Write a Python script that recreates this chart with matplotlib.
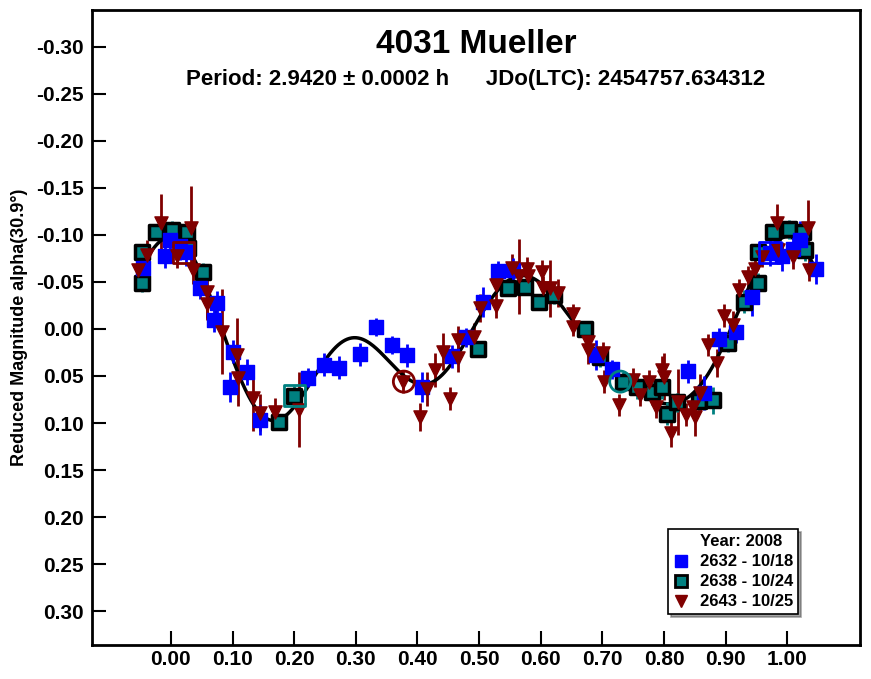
import matplotlib
matplotlib.use("Agg")
import matplotlib.pyplot as plt
import numpy as np
from matplotlib.lines import Line2D

plt.rcParams["font.family"] = "Liberation Sans"
plt.rcParams["font.weight"] = "bold"

# ── Data (phase, reduced magnitude, error) ─────────────────────────────
S2632_PH = [-0.045, -0.010, -0.002, 0.015, 0.025, 0.047, 0.075, 0.070, 0.096, 0.101, 0.123, 0.144,
            0.222, 0.248, 0.273, 0.307, 0.333, 0.359, 0.383, 0.408, 0.456, 0.479,
            0.506, 0.531, 0.555, 0.690, 0.716, 0.839, 0.865, 0.890, 0.916, 0.942,
            0.972, 0.992, 1.010, 1.021, 1.047]
S2632_MAG = [-0.065, -0.077, -0.095, -0.088, -0.082, -0.044, -0.028, -0.009, 0.062, 0.024, 0.046, 0.097,
             0.052, 0.038, 0.041, 0.027, -0.002, 0.017, 0.028, 0.062, 0.029, 0.009,
             -0.029, -0.062, -0.063, 0.028, 0.043, 0.045, 0.068, 0.011, 0.003, -0.034,
             -0.081, -0.077, -0.085, -0.095, -0.064]
S2632_ERR = [0.020, 0.012, 0.018, 0.015, 0.015, 0.012, 0.012, 0.012, 0.016, 0.012, 0.014, 0.016,
             0.010, 0.012, 0.012, 0.012, 0.010, 0.010, 0.012, 0.016, 0.012, 0.010,
             0.016, 0.010, 0.012, 0.016, 0.010, 0.012, 0.018, 0.012, 0.012, 0.020,
             0.014, 0.015, 0.015, 0.020, 0.016]

S2638_PH = [-0.047, -0.047, -0.024, 0.002, 0.026, 0.028, 0.052, 0.175, 0.200,
            0.498, 0.547, 0.575, 0.597, 0.622, 0.672, 0.696, 0.734, 0.756, 0.781, 0.797,
            0.805, 0.821, 0.856, 0.880, 0.904, 0.929, 0.953, 0.953, 0.977, 1.002, 1.026, 1.029]
S2638_MAG = [-0.082, -0.049, -0.103, -0.105, -0.103, -0.086, -0.060, 0.099, 0.071,
             0.021, -0.043, -0.045, -0.029, -0.036, 0.000, 0.030, 0.056, 0.062, 0.067, 0.062,
             0.090, 0.078, 0.077, 0.076, 0.015, -0.029, -0.049, -0.082, -0.103, -0.106, -0.103, -0.084]
S2638_ERR = [0.008, 0.010, 0.008, 0.010, 0.010, 0.012, 0.010, 0.008, 0.010,
             0.008, 0.008, 0.008, 0.008, 0.010, 0.008, 0.010, 0.010, 0.012, 0.014, 0.012,
             0.012, 0.010, 0.012, 0.014, 0.010, 0.012, 0.010, 0.008, 0.008, 0.010, 0.010, 0.012]

S2643_PH = [-0.054, -0.039, -0.016, 0.010, 0.032, 0.036, 0.058, 0.058, 0.083, 0.107, 0.109, 0.133,
            0.144, 0.169, 0.208, 0.377, 0.404, 0.416, 0.429, 0.442, 0.453, 0.466, 0.466,
            0.492, 0.502, 0.528, 0.528, 0.554, 0.565, 0.578, 0.580, 0.602, 0.604, 0.615, 0.628,
            0.653, 0.653, 0.677, 0.677, 0.701, 0.703, 0.727, 0.750, 0.761, 0.776, 0.787, 0.797,
            0.800, 0.812, 0.823, 0.836, 0.847, 0.851, 0.859, 0.872, 0.886, 0.898, 0.912, 0.922,
            0.937, 0.948, 0.959, 0.984, 0.985, 1.010, 1.034, 1.036]
S2643_MAG = [-0.063, -0.079, -0.113, -0.077, -0.107, -0.063, -0.039, -0.027, 0.003, 0.028, 0.052, 0.073,
             0.089, 0.088, 0.086, 0.056, 0.094, 0.064, 0.044, 0.024, 0.074, 0.012, 0.031,
             0.009, -0.022, -0.047, -0.024, -0.065, -0.056, -0.064, -0.056, -0.061, -0.044, -0.043, -0.038,
             -0.016, -0.002, 0.014, 0.022, 0.026, 0.056, 0.081, 0.054, 0.070, 0.056, 0.083, 0.044,
             0.051, 0.111, 0.078, 0.091, 0.083, 0.094, 0.068, 0.017, 0.036, -0.014, -0.004, -0.041,
             -0.055, -0.064, -0.076, -0.113, -0.084, -0.076, -0.107, -0.063]
S2643_ERR = [0.015, 0.015, 0.030, 0.012, 0.045, 0.015, 0.030, 0.015, 0.045, 0.040, 0.030, 0.035,
             0.020, 0.015, 0.040, 0.012, 0.015, 0.018, 0.018, 0.020, 0.012, 0.015, 0.015,
             0.015, 0.015, 0.012, 0.012, 0.015, 0.040, 0.012, 0.015, 0.012, 0.012, 0.030, 0.015,
             0.010, 0.010, 0.012, 0.015, 0.012, 0.012, 0.012, 0.012, 0.012, 0.012, 0.012, 0.015,
             0.025, 0.015, 0.035, 0.012, 0.012, 0.020, 0.020, 0.012, 0.015, 0.012, 0.015, 0.012,
             0.012, 0.010, 0.010, 0.020, 0.015, 0.012, 0.030, 0.012]

# open markers (points shifted to other cycle)
OPEN_PH = [0.020, 0.200, 0.378, 0.729, 0.972]
OPEN_MAG = [-0.081, 0.071, 0.056, 0.056, -0.081]
OPEN_MARK = ["s", "s", "o", "o", "s"]
OPEN_COL = ["#800000", "#008080", "#800000", "#008080", "#0000ff"]

XTICKS = [0.0, 0.1, 0.2, 0.3, 0.4, 0.5, 0.6, 0.7, 0.8, 0.9, 1.0]
YTICKS = [-0.30, -0.25, -0.20, -0.15, -0.10, -0.05, 0.0, 0.05, 0.10, 0.15, 0.20, 0.25, 0.30]

BLUE = "#0000ff"
TEAL = "#008080"
RED = "#800000"

# ── Fourier fit (order 4) to all points ────────────────────────────────
ph = np.array(S2632_PH + S2638_PH + S2643_PH)
mg = np.array(S2632_MAG + S2638_MAG + S2643_MAG)
order = 4


def design(p):
    cols = [np.ones_like(p)]
    for k in range(1, order + 1):
        cols += [np.cos(2 * np.pi * k * p), np.sin(2 * np.pi * k * p)]
    return np.column_stack(cols)


coef, *_ = np.linalg.lstsq(design(ph), mg, rcond=None)
xc = np.linspace(-0.05, 1.05, 600)
yc = design(xc) @ coef

# ── Plot ───────────────────────────────────────────────────────────────
fig = plt.figure(figsize=(8.71, 6.79), dpi=100)
ax = fig.add_axes([0.1056, 0.050, 0.8818, 0.9353])

ax.plot(xc, yc, color="black", lw=2.5, zorder=3)

ax.errorbar(S2643_PH, S2643_MAG, yerr=S2643_ERR, fmt="none", ecolor=RED, elinewidth=2, zorder=2)
ax.errorbar(S2638_PH, S2638_MAG, yerr=S2638_ERR, fmt="none", ecolor=TEAL, elinewidth=2, zorder=4)
ax.errorbar(S2632_PH, S2632_MAG, yerr=S2632_ERR, fmt="none", ecolor=BLUE, elinewidth=2, zorder=4)

ax.scatter(S2638_PH, S2638_MAG, marker="s", s=90, color=TEAL, edgecolors="black", linewidths=2.5, zorder=5)
ax.scatter(S2632_PH, S2632_MAG, marker="s", s=90, color=BLUE, edgecolors=BLUE, zorder=5)
ax.scatter(S2643_PH, S2643_MAG, marker="v", s=90, color=RED, edgecolors=RED, zorder=6)

for p, m, mk, c in zip(OPEN_PH, OPEN_MAG, OPEN_MARK, OPEN_COL):
    ax.scatter([p], [m], marker=mk, s=230, facecolors="none", edgecolors=c, linewidths=2, zorder=7)

ax.set_xlim(-0.128, 1.118)
ax.set_ylim(0.336, -0.339)
ax.set_xticks(XTICKS)
ax.set_xticklabels([f"{v:.2f}" for v in XTICKS])
ax.set_yticks(YTICKS)
ax.set_yticklabels([f"{v:.2f}" for v in YTICKS])
ax.tick_params(axis="both", direction="in", length=10, width=1.5, labelsize=15)
ax.tick_params(axis="y", pad=6)
for s in ax.spines.values():
    s.set_linewidth(2)

ax.set_ylabel("Reduced Magnitude alpha(30.9°)", fontsize=13, fontweight="bold", labelpad=6)

ax.text(0.5, 0.945, "4031 Mueller", transform=ax.transAxes, ha="center", va="center",
        fontsize=24, fontweight="bold")
ax.text(0.5, 0.89, "Period: 2.9420 ± 0.0002 h      JDo(LTC): 2454757.634312",
        transform=ax.transAxes, ha="center", va="center", fontsize=16, fontweight="bold")

# legend
handles = [
    Line2D([], [], ls="none", label="Year: 2008"),
    Line2D([], [], marker="s", ls="none", color=BLUE, markersize=9, label="2632 - 10/18"),
    Line2D([], [], marker="s", ls="none", color=TEAL, markeredgecolor="black", markeredgewidth=2,
           markersize=9, label="2638 - 10/24"),
    Line2D([], [], marker="v", ls="none", color=RED, markersize=9, label="2643 - 10/25"),
]
leg = ax.legend(handles=handles, loc="lower right", bbox_to_anchor=(0.93, 0.035), fontsize=12,
                frameon=True, fancybox=False, shadow=True, handlelength=1.0, handletextpad=0.6,
                borderpad=0.3, labelspacing=0.3, framealpha=1)
leg.get_frame().set_edgecolor("black")
leg.get_frame().set_linewidth(1.2)

fig.savefig("out.png", dpi=100)
